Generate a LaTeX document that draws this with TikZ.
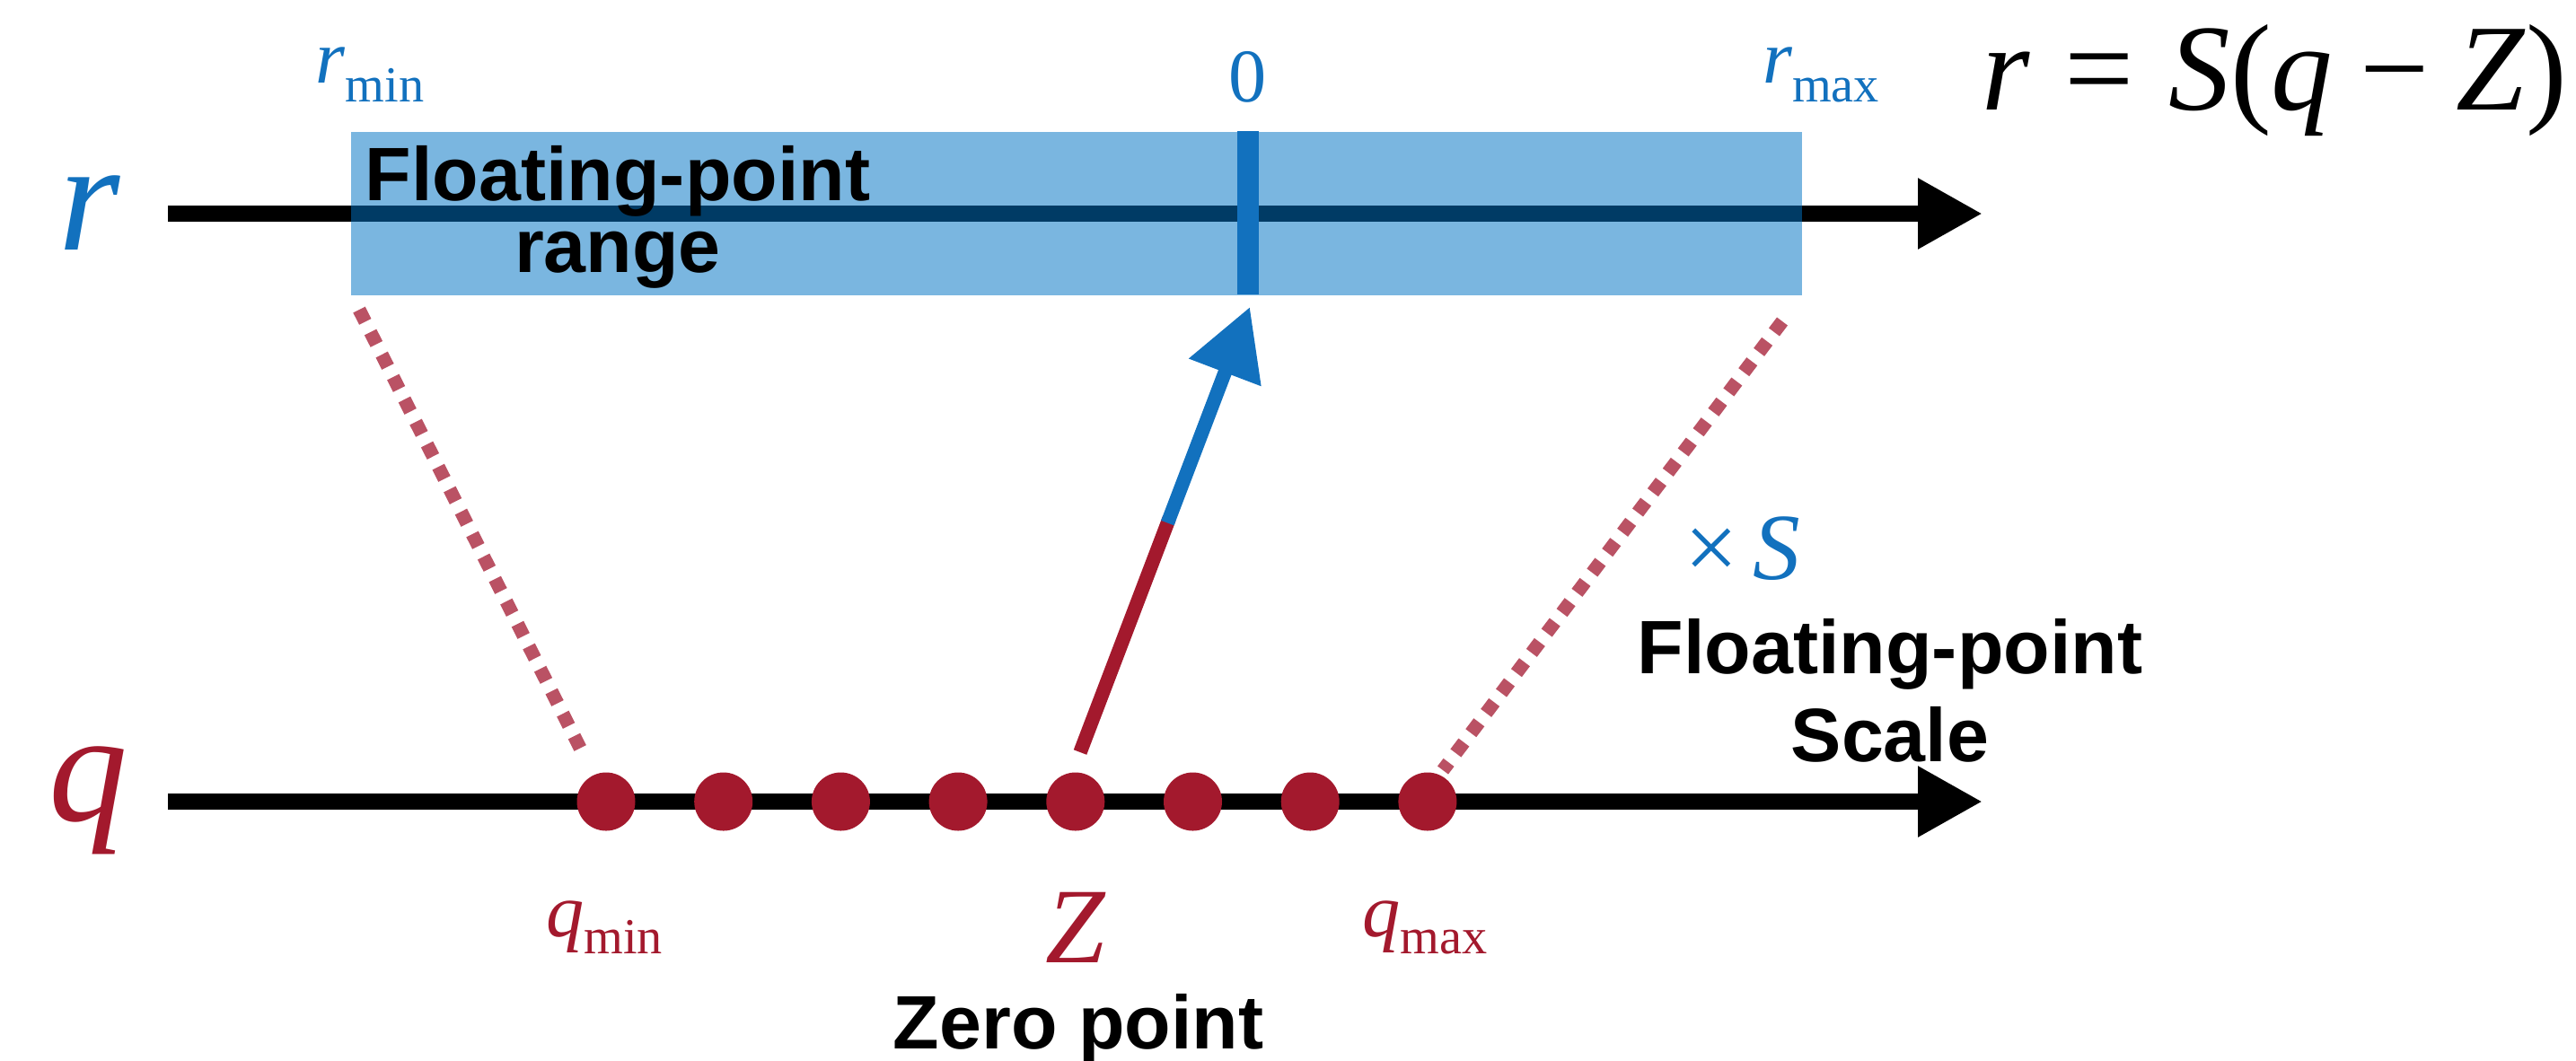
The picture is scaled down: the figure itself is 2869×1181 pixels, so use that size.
\documentclass[tikz,border=0pt]{standalone}
\usepackage{fontspec}
\setmainfont{Liberation Serif}
\newfontfamily\hvsans{Liberation Sans}
\usetikzlibrary{arrows.meta,calc}
\definecolor{myblue}{RGB}{18,113,190}
\definecolor{boxblue}{RGB}{0,115,195}
\definecolor{myred}{RGB}{163,25,45}
\definecolor{dashred}{RGB}{186,82,100}
\newcommand\rlab[1]{{\fontsize{24}{24}\selectfont\itshape r}\raisebox{-6pt}{\fontsize{16}{16}\selectfont #1}}
\newcommand\qlab[1]{{\fontsize{24}{24}\selectfont\itshape q}\raisebox{-5.4pt}{\fontsize{16}{16}\selectfont #1}}
\begin{document}
\begin{tikzpicture}[x=0.1mm,y=-0.1mm,
  axis/.style={line width=1.8mm, -{Triangle[length=7.2mm,width=7.4mm]}},
  qdot/.style={circle, fill=myred, minimum size=6.5mm, inner sep=0pt},
  dashline/.style={dashred, line width=1.5mm, dash pattern=on 1.5mm off 1.3mm},
  sanslab/.style={font=\hvsans\bfseries\fontsize{24}{24}\selectfont, inner sep=0pt, anchor=base},
  lab/.style={inner sep=0pt, anchor=base}
]
\useasboundingbox (0,0) rectangle (2869,1181);

% axes
\coordinate (rStart) at (187,238);
\coordinate (rEnd) at (2208,238);
\coordinate (qStart) at (187,893);
\coordinate (qEnd) at (2208,893);
\draw[axis] (rStart) -- (rEnd);
\draw[axis] (qStart) -- (qEnd);

% range box
\node[fill=boxblue, fill opacity=0.52, minimum width=161.6mm, minimum height=18.2mm,
      inner sep=0pt, anchor=north west] (box) at (390,146) {};
\coordinate (tickTop) at (1390,146);
\coordinate (tickBot) at (1390,328);
\draw[myblue, line width=2.4mm] (tickTop) -- (tickBot);

% axis labels
\node[lab, myblue, font=\fontsize{50}{50}\selectfont\itshape] (rlabel) at (100,278) {r};
\node[lab, myred, font=\fontsize{50}{50}\selectfont\itshape] (qlabel) at (98,914) {q};

% r labels
\node[lab, myblue] (rmin) at (412,92) {\rlab{min}};
\node[lab, myblue, font=\fontsize{24}{24}\selectfont] (zero) at (1390,113) {0};
\node[lab, myblue] (rmax) at (2028,92) {\rlab{max}};

% equation
\node[inner sep=0pt, anchor=base west, font=\fontsize{39}{39}\selectfont] (eq) at (2207,122)
  {\textit{r}\hspace{0.28em}=\hspace{0.28em}\textit{S}(\textit{q}\hspace{0.22em}−\hspace{0.22em}\textit{Z})};

% box text
\node[sanslab] (fr1) at (688,223) {Floating-point};
\node[sanslab] (fr2) at (688,303) {range};

% dots
\foreach \i in {0,...,7} \node[qdot] (d\i) at ({675+130.7*\i},893) {};

% dashed range lines
\coordinate (lTop) at (400,345);
\coordinate (lBot) at (652,845);
\coordinate (rTop) at (1985,358);
\coordinate (rBot) at (1607,858);
\draw[dashline] (lTop) -- (lBot);
\draw[dashline] (rTop) -- (rBot);

% zero-point arrow
\coordinate (aStart) at (1203,838);
\coordinate (aTip) at (1392,342);
\coordinate (aMidR) at ($(aStart)!0.525!(aTip)$);
\coordinate (aMidB) at ($(aStart)!0.515!(aTip)$);
\draw[myred, line width=1.55mm] (aStart) -- (aMidR);
\draw[myblue, line width=1.55mm, -{Triangle[length=7.8mm,width=8.2mm]}] (aMidB) -- (aTip);

% q labels
\node[lab, myred] (qmin) at (673,1043) {\qlab{min}};
\node[lab, myred, font=\fontsize{34}{34}\selectfont\itshape] (zlab) at (1198,1072) {Z};
\node[lab, myred] (qmax) at (1587,1043) {\qlab{max}};
\node[sanslab] (zp) at (1201,1168) {Zero point};

% scale
\node[inner sep=0pt, anchor=base west, myblue, font=\fontsize{30}{30}\selectfont] (xs) at (1876,645)
  {×\hspace{0.15em}\textit{S}};
\node[sanslab] (fs1) at (2105,750) {Floating-point};
\node[sanslab] (fs2) at (2105,848) {Scale};
\end{tikzpicture}
\end{document}
